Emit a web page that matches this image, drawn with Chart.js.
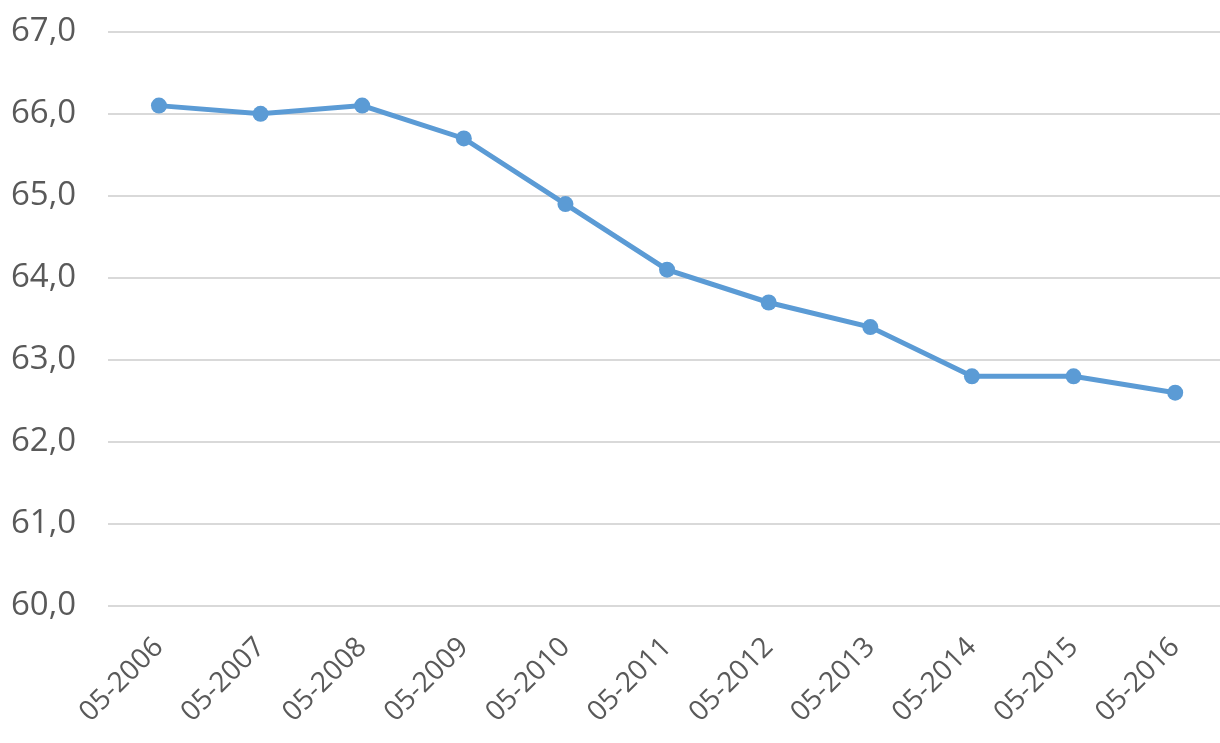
<!DOCTYPE html>
<html>
<head>
<meta charset="utf-8">
<script src="https://cdn.jsdelivr.net/npm/chart.js@4/dist/chart.umd.min.js"></script>
<style>
  html, body { margin: 0; padding: 0; background: #fff; overflow: hidden; }
  #wrap { width: 1267px; height: 782px; margin-left: -33px; margin-top: -20px; }
</style>
</head>
<body>
<div id="wrap"><canvas id="c" width="1267" height="782"></canvas></div>
<script>
const categories = ["05-2006","05-2007","05-2008","05-2009","05-2010","05-2011","05-2012","05-2013","05-2014","05-2015","05-2016"];
const values = [66.1, 66.0, 66.1, 65.7, 64.9, 64.1, 63.7, 63.4, 62.8, 62.8, 62.6];
const yMin = 60, yMax = 67, yStep = 1;

const fontFamily = "'Open Sans', 'DejaVu Sans', sans-serif";
new Chart(document.getElementById('c'), {
  type: 'line',
  data: {
    labels: categories,
    datasets: [{
      data: values,
      borderColor: '#5b9bd5',
      backgroundColor: '#5b9bd5',
      borderWidth: 5,
      pointRadius: 8,
      pointHoverRadius: 8,
      pointBorderWidth: 0,
      tension: 0,
      fill: false
    }]
  },
  options: {
    responsive: false,
    animation: false,
    layout: { padding: { top: 0, left: 12, right: 0, bottom: 8 } },
    plugins: { legend: { display: false }, tooltip: { enabled: false } },
    scales: {
      x: {
        offset: true,
        grid: { display: false, drawTicks: false },
        border: { display: false },
        ticks: {
          color: '#595959',
          font: { family: fontFamily, size: 28 },
          maxRotation: 45, minRotation: 45,
          padding: 25,
          autoSkip: false
        }
      },
      y: {
        min: yMin, max: yMax,
        grid: { color: '#d9d9d9', lineWidth: 2, drawTicks: false },
        border: { display: false },
        ticks: {
          stepSize: yStep,
          color: '#595959',
          font: { family: fontFamily, size: 33 },
          padding: 32,
          callback: v => v.toFixed(1).replace('.', ',')
        }
      }
    }
  }
});
</script>
</body>
</html>
